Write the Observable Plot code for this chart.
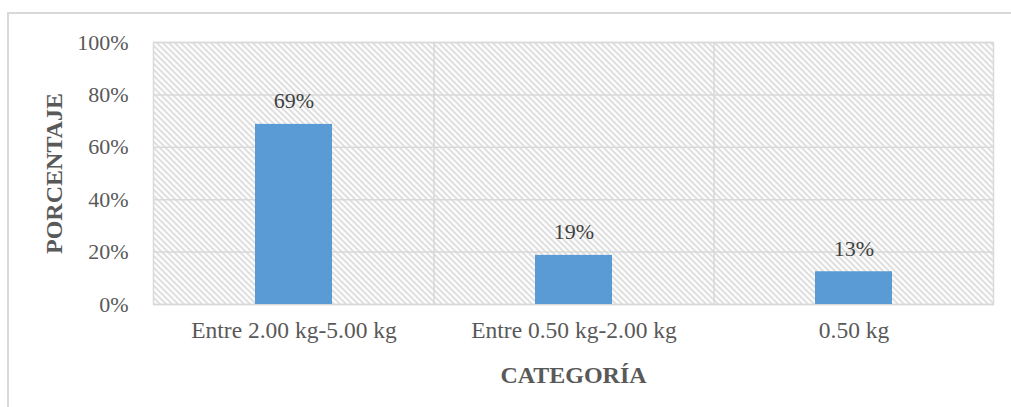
<!DOCTYPE html>
<html>
<head>
<meta charset="utf-8">
<script src="https://cdn.jsdelivr.net/npm/d3@7"></script>
<script src="https://cdn.jsdelivr.net/npm/@observablehq/plot@0.6"></script>
<style>
  html, body { margin: 0; padding: 0; background: #fff; }
  #chart { position: relative; width: 1011px; height: 407px; }
  #border { position: absolute; left: 7px; top: 12px; width: 1010px; height: 400px; border: 2px solid #d9d9d9; box-sizing: border-box; }
  #chart svg { position: absolute; left: 0; top: 0; }
</style>
</head>
<body>
<div id="chart"><div id="border"></div></div>
<script>
const categories = ["Entre 2.00 kg-5.00 kg", "Entre 0.50 kg-2.00 kg", "0.50 kg"];
const values = [0.6875, 0.1875, 0.125];
const valueLabels = ["69%", "19%", "13%"];
const yTicks = [0, 0.2, 0.4, 0.6, 0.8, 1.0];
const yTitle = "PORCENTAJE";
const xTitle = "CATEGORÍA";

const data = categories.map((c, i) => ({category: c, value: values[i], label: valueLabels[i]}));

const hatchDefs = () => {
  const g = d3.create("svg:g");
  const p = g.append("defs").append("pattern")
    .attr("id", "hatch").attr("patternUnits", "userSpaceOnUse")
    .attr("width", 6).attr("height", 6);
  p.append("rect").attr("width", 6).attr("height", 6).attr("fill", "#ffffff");
  p.append("path").attr("d", "M-1,-1L7,7M-1,5L1,7M5,-1L7,1")
    .attr("stroke", "#cfcfcf").attr("stroke-width", 1.4);
  return g.node();
};

const font = "'Liberation Serif', 'Times New Roman', serif";

const chart = Plot.plot({
  width: 1011,
  height: 407,
  marginLeft: 153,
  marginRight: 18,
  marginTop: 42,
  marginBottom: 103,
  style: {fontFamily: font, fontSize: "22px", color: "#595959", background: "transparent"},
  x: {domain: categories, paddingInner: 0.725, paddingOuter: 0.3625, label: null},
  y: {domain: [0, 1], label: null},
  marks: [
    hatchDefs,
    Plot.frame({fill: "url(#hatch)", stroke: null}),
    Plot.gridY(yTicks, {stroke: "#d9d9d9", strokeOpacity: 1, strokeWidth: 1.5}),
    Plot.ruleX(categories.slice(1), {stroke: "#d9d9d9", strokeWidth: 1.5, dx: -140}),
    Plot.frame({stroke: "#d9d9d9", strokeWidth: 1.5}),
    Plot.barY(data, {x: "category", y: "value", fill: "#5B9BD5"}),
    Plot.text(data, {x: "category", y: "value", text: "label", dy: -23, fill: "#404040", fontSize: 22}),
    Plot.axisY({ticks: yTicks, tickFormat: d3.format(".0%"), tickSize: 0, tickPadding: 25, label: null, fontSize: 22}),
    Plot.axisX({tickSize: 0, tickPadding: 17, label: null, fontSize: 23.5}),
    Plot.text([yTitle], {frameAnchor: "left", dx: -99, rotate: -90, textAnchor: "middle", fontWeight: "bold", fontSize: 24, fill: "#595959"}),
    Plot.text([xTitle], {frameAnchor: "bottom", dy: 78, textAnchor: "middle", fontWeight: "bold", fontSize: 24, fill: "#595959"})
  ]
});
document.getElementById("chart").appendChild(chart);
</script>
</body>
</html>
